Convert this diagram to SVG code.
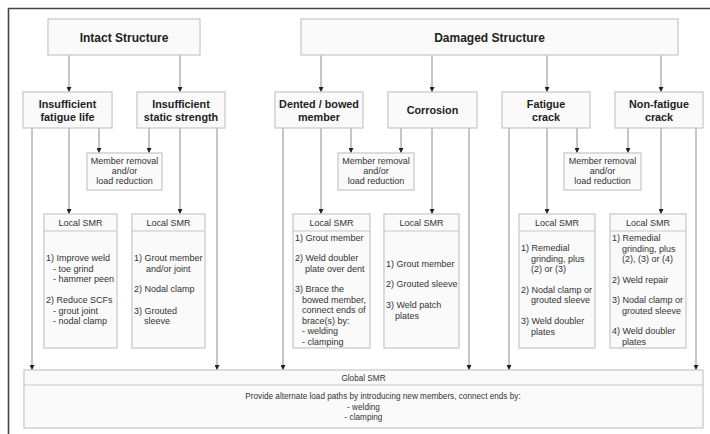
<svg xmlns="http://www.w3.org/2000/svg" width="710" height="434" viewBox="0 0 710 434">
<defs>
<marker id="ah" viewBox="0 0 6 6" refX="6" refY="3" markerWidth="5" markerHeight="5" orient="auto" markerUnits="userSpaceOnUse">
<path d="M0,0 L6,3 L0,6 z" fill="#222"/>
</marker>
<style>
.box{fill:#fafafa;stroke:#c6c6c6;stroke-width:1.2}
.sep{stroke:#c6c6c6;stroke-width:1.2}
.ln{stroke:#8c8c8c;stroke-width:1;fill:none;marker-end:url(#ah)}
.t1{font-family:"Liberation Sans",Arial,sans-serif;font-weight:bold;font-size:12px;fill:#222;text-anchor:middle}
.t2{font-family:"Liberation Sans",Arial,sans-serif;font-weight:bold;font-size:10.8px;fill:#222;text-anchor:middle}
.t{font-family:"Liberation Sans",Arial,sans-serif;font-size:9px;fill:#333}
.g{font-family:"Liberation Sans",Arial,sans-serif;font-size:8.2px;fill:#333;text-anchor:middle}
.c{text-anchor:middle}
</style>
</defs>
<rect x="0" y="0" width="710" height="434" fill="#ffffff"/>
<path d="M8.5,434 V8.5 H710" fill="none" stroke="#454545" stroke-width="1.6"/>

<g id="connectors">
<line class="ln" x1="69" y1="55" x2="69" y2="92"/>
<line class="ln" x1="180" y1="55" x2="180" y2="92"/>
<line class="ln" x1="321" y1="55" x2="321" y2="92"/>
<line class="ln" x1="432" y1="55" x2="432" y2="92"/>
<line class="ln" x1="547" y1="55" x2="547" y2="92"/>
<line class="ln" x1="661" y1="55" x2="661" y2="92"/>
<line class="ln" x1="32" y1="128" x2="32" y2="370"/>
<line class="ln" x1="217" y1="128" x2="217" y2="370"/>
<line class="ln" x1="283" y1="128" x2="283" y2="370"/>
<line class="ln" x1="469" y1="128" x2="469" y2="370"/>
<line class="ln" x1="509" y1="128" x2="509" y2="370"/>
<line class="ln" x1="696" y1="128" x2="696" y2="370"/>
<line class="ln" x1="99" y1="128" x2="99" y2="153"/>
<line class="ln" x1="149" y1="128" x2="149" y2="153"/>
<line class="ln" x1="351" y1="128" x2="351" y2="153"/>
<line class="ln" x1="401" y1="128" x2="401" y2="153"/>
<line class="ln" x1="577" y1="128" x2="577" y2="153"/>
<line class="ln" x1="628" y1="128" x2="628" y2="153"/>
<line class="ln" x1="69" y1="128" x2="69" y2="214"/>
<line class="ln" x1="180" y1="128" x2="180" y2="214"/>
<line class="ln" x1="321" y1="128" x2="321" y2="214"/>
<line class="ln" x1="432" y1="128" x2="432" y2="214"/>
<line class="ln" x1="547" y1="128" x2="547" y2="214"/>
<line class="ln" x1="661" y1="128" x2="661" y2="214"/>
</g>

<g id="intact">
<rect class="box" x="48" y="19" width="152" height="36"/>
<text class="t1" x="124" y="41.5">Intact Structure</text>
</g>
<g id="damaged">
<rect class="box" x="301" y="19" width="377" height="36"/>
<text class="t1" x="489.5" y="41.5">Damaged Structure</text>
</g>

<g id="fatigue-life">
<rect class="box" x="23" y="92" width="89" height="36"/>
<text class="t2" x="67.5" y="107.5">Insufficient</text>
<text class="t2" x="67.5" y="121">fatigue life</text>
</g>
<g id="static-strength">
<rect class="box" x="137" y="92" width="88" height="36"/>
<text class="t2" x="181" y="107.5">Insufficient</text>
<text class="t2" x="181" y="121">static strength</text>
</g>
<g id="dented">
<rect class="box" x="275" y="92" width="88" height="36"/>
<text class="t2" x="319" y="107.5">Dented / bowed</text>
<text class="t2" x="319" y="121">member</text>
</g>
<g id="corrosion">
<rect class="box" x="388" y="92" width="89" height="36"/>
<text class="t2" x="432.5" y="114">Corrosion</text>
</g>
<g id="fatigue-crack">
<rect class="box" x="502" y="92" width="88" height="36"/>
<text class="t2" x="546" y="107.5">Fatigue</text>
<text class="t2" x="546" y="121">crack</text>
</g>
<g id="non-fatigue-crack">
<rect class="box" x="615" y="92" width="88" height="36"/>
<text class="t2" x="659" y="107.5">Non-fatigue</text>
<text class="t2" x="659" y="121">crack</text>
</g>

<g id="removal-1">
<rect class="box" x="87" y="153" width="75" height="37"/>
<text class="t c" x="124.5" y="164">Member removal</text>
<text class="t c" x="124.5" y="174">and/or</text>
<text class="t c" x="124.5" y="184">load reduction</text>
</g>
<g id="removal-2">
<rect class="box" x="338" y="153" width="76" height="37"/>
<text class="t c" x="376" y="164">Member removal</text>
<text class="t c" x="376" y="174">and/or</text>
<text class="t c" x="376" y="184">load reduction</text>
</g>
<g id="removal-3">
<rect class="box" x="564" y="153" width="77" height="37"/>
<text class="t c" x="602.5" y="164">Member removal</text>
<text class="t c" x="602.5" y="174">and/or</text>
<text class="t c" x="602.5" y="184">load reduction</text>
</g>

<g id="local-1">
<rect class="box" x="44" y="214" width="73" height="134"/>
<line class="sep" x1="44" y1="231" x2="117" y2="231"/>
<text class="t c" x="80.5" y="226">Local SMR</text>
<text class="t" x="46" y="261">1) Improve weld</text>
<text class="t" x="53" y="271.5">- toe grind</text>
<text class="t" x="53" y="282">- hammer peen</text>
<text class="t" x="46" y="303">2) Reduce SCFs</text>
<text class="t" x="53" y="313.5">- grout joint</text>
<text class="t" x="53" y="324">- nodal clamp</text>
</g>
<g id="local-2">
<rect class="box" x="132" y="214" width="73" height="134"/>
<line class="sep" x1="132" y1="231" x2="205" y2="231"/>
<text class="t c" x="168.5" y="226">Local SMR</text>
<text class="t" x="134" y="261">1) Grout member</text>
<text class="t" x="146" y="271.5">and/or joint</text>
<text class="t" x="134" y="292">2) Nodal clamp</text>
<text class="t" x="134" y="313.5">3) Grouted</text>
<text class="t" x="144" y="324">sleeve</text>
</g>
<g id="local-3">
<rect class="box" x="293" y="214" width="77" height="134"/>
<line class="sep" x1="293" y1="231" x2="370" y2="231"/>
<text class="t c" x="331.5" y="226">Local SMR</text>
<text class="t" x="295" y="241">1) Grout member</text>
<text class="t" x="295" y="261">2) Weld doubler</text>
<text class="t" x="305" y="271.5">plate over dent</text>
<text class="t" x="295" y="292">3) Brace the</text>
<text class="t" x="302" y="302.5">bowed member,</text>
<text class="t" x="302" y="313">connect ends of</text>
<text class="t" x="302" y="323.5">brace(s) by:</text>
<text class="t" x="302" y="334">- welding</text>
<text class="t" x="302" y="344.5">- clamping</text>
</g>
<g id="local-4">
<rect class="box" x="384" y="214" width="75" height="134"/>
<line class="sep" x1="384" y1="231" x2="459" y2="231"/>
<text class="t c" x="421.5" y="226">Local SMR</text>
<text class="t" x="386" y="267">1) Grout member</text>
<text class="t" x="386" y="287">2) Grouted sleeve</text>
<text class="t" x="386" y="308">3) Weld patch</text>
<text class="t" x="395" y="318.5">plates</text>
</g>
<g id="local-5">
<rect class="box" x="519" y="214" width="76" height="134"/>
<line class="sep" x1="519" y1="231" x2="595" y2="231"/>
<text class="t c" x="557" y="226">Local SMR</text>
<text class="t" x="521" y="251">1) Remedial</text>
<text class="t" x="531" y="261.5">grinding, plus</text>
<text class="t" x="531" y="272">(2) or (3)</text>
<text class="t" x="521" y="292.5">2) Nodal clamp or</text>
<text class="t" x="531" y="303">grouted sleeve</text>
<text class="t" x="521" y="324">3) Weld doubler</text>
<text class="t" x="531" y="334.5">plates</text>
</g>
<g id="local-6">
<rect class="box" x="610" y="214" width="76" height="134"/>
<line class="sep" x1="610" y1="231" x2="686" y2="231"/>
<text class="t c" x="648" y="226">Local SMR</text>
<text class="t" x="612" y="241">1) Remedial</text>
<text class="t" x="622" y="251.5">grinding, plus</text>
<text class="t" x="622" y="262">(2), (3) or (4)</text>
<text class="t" x="612" y="282.5">2) Weld repair</text>
<text class="t" x="612" y="303">3) Nodal clamp or</text>
<text class="t" x="622" y="313.5">grouted sleeve</text>
<text class="t" x="612" y="334">4) Weld doubler</text>
<text class="t" x="622" y="344.5">plates</text>
</g>

<g id="global">
<rect class="box" x="24" y="370" width="679" height="58"/>
<line class="sep" x1="24" y1="385" x2="703" y2="385"/>
<text class="g" x="363.5" y="380.5">Global SMR</text>
<text class="g" x="383" y="399">Provide alternate load paths by introducing new members, connect ends by:</text>
<text class="g" x="363.5" y="409.5">- welding</text>
<text class="g" x="363.5" y="420">- clamping</text>
</g>
</svg>
